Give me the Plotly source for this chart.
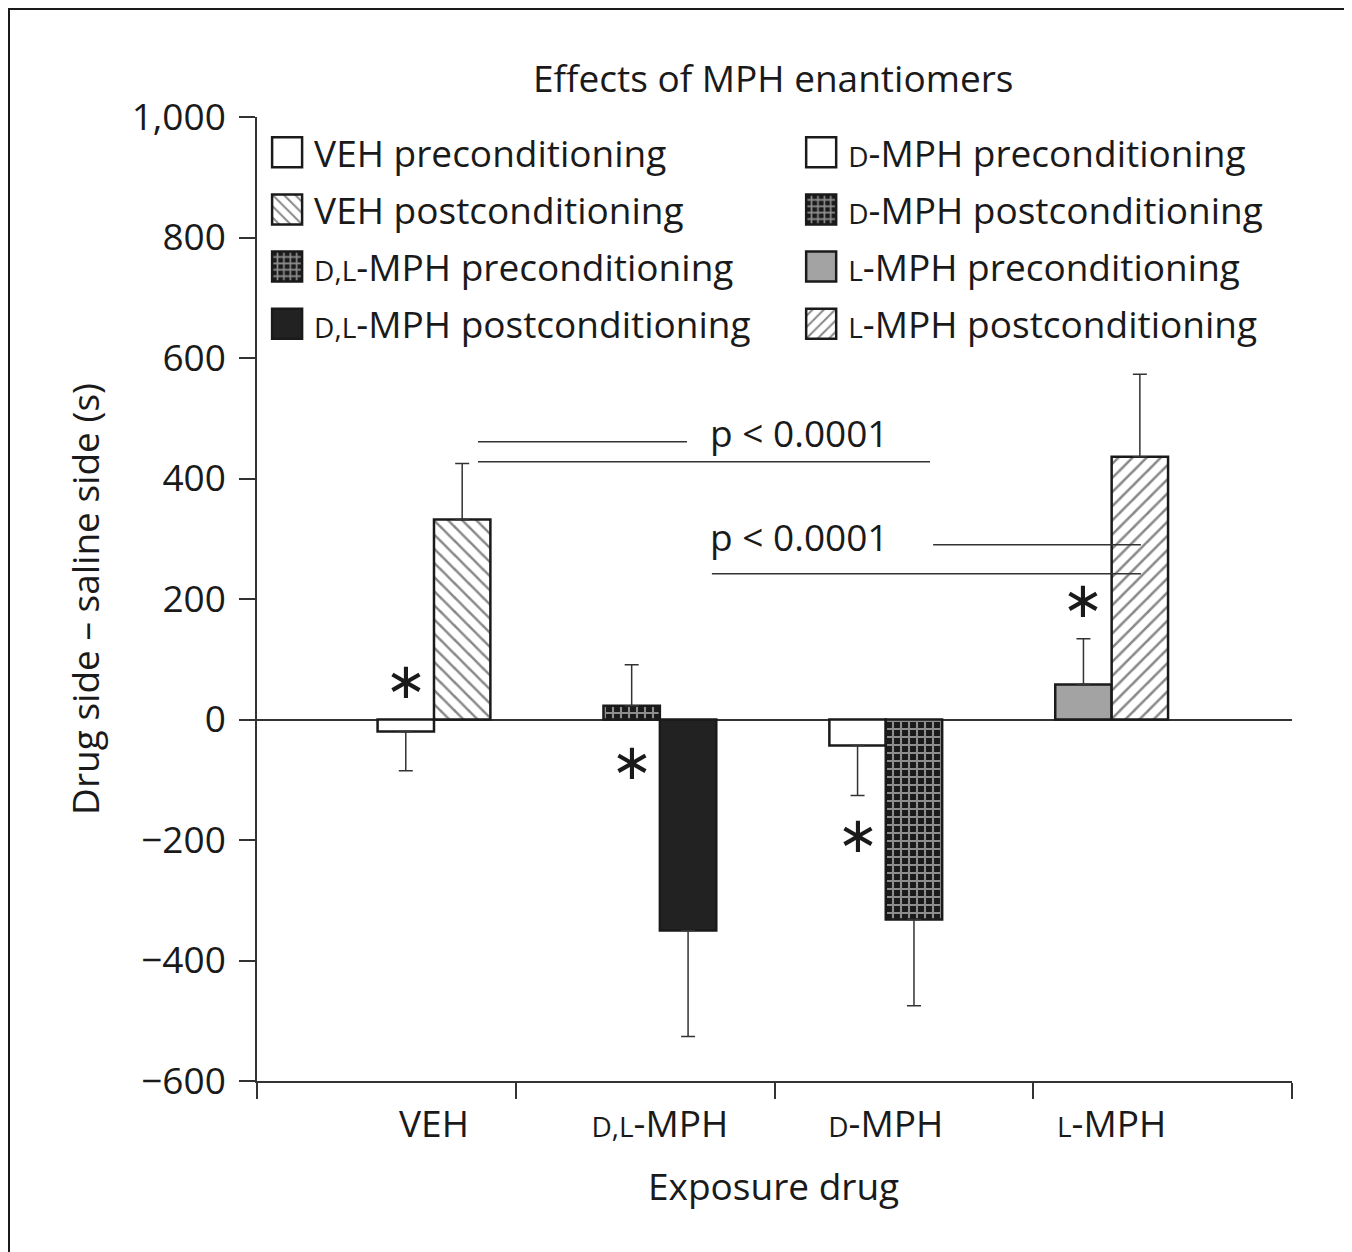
import plotly.graph_objects as go

# ---------------- data ----------------
groups = ["VEH", "D,L-MPH", "D-MPH", "L-MPH"]
pre_values = [-20, 23, -43, 58]
pre_errors = [65, 68, 83, 76]
post_values = [332, -350, -332, 436]
post_errors = [93, 176, 143, 137]
y_tick_values = [-600, -400, -200, 0, 200, 400, 600, 800, 1000]
y_tick_labels = ["\u2212600", "\u2212400", "\u2212200", "0", "200", "400", "600", "800", "1,000"]

# ---------------- styling / layout ----------------
FONT = "Open Sans"
FS = 37
INK = "#1a1a1a"
AX = "#333333"


def sc(s):
    """small caps imitation for D / L prefixes"""
    return f"<span style='font-size:{int(FS * 0.78)}px'>{s}</span>"


def display(g):
    if g.endswith("-MPH"):
        return sc(g[:-4]) + "-MPH"
    return g


GS, GSTEP, BW = 0.684, 0.873, 0.218
centers = [GS + i * GSTEP for i in range(len(groups))]

WHITE = dict(color="white", line=dict(color=INK, width=2.5))
CHECK = dict(color="#1a1a1a", line=dict(color=INK, width=2.5),
             pattern=dict(shape="+", fgcolor="white", bgcolor="#1a1a1a", size=8, solidity=0.45))
BACK = dict(color="white", line=dict(color=INK, width=2.5),
            pattern=dict(shape="\\", fgcolor="#111111", bgcolor="white", size=10, solidity=0.25))
FWD = dict(color="white", line=dict(color=INK, width=2.5),
           pattern=dict(shape="/", fgcolor="#111111", bgcolor="white", size=10, solidity=0.25))
BLACK = dict(color="#222222", line=dict(color=INK, width=2.5))
GRAY = dict(color="#a3a3a3", line=dict(color=INK, width=2.5))

pre_styles = [WHITE, CHECK, WHITE, GRAY]
post_styles = [BACK, BLACK, CHECK, FWD]
legend_of = ["legend", "legend", "legend2", "legend2"]

fig = go.Figure()
for i, g in enumerate(groups):
    for phase, vals, errs, styles, off in (
        ("preconditioning", pre_values, pre_errors, pre_styles, -BW / 2),
        ("postconditioning", post_values, post_errors, post_styles, BW / 2),
    ):
        v, e = vals[i], errs[i]
        up, down = (e, 0) if v >= 0 else (0, e)
        fig.add_trace(go.Bar(
            x=[centers[i] + off], y=[v], width=BW,
            name=f"{display(g)} {phase}",
            marker=styles[i],
            error_y=dict(type="data", symmetric=False, array=[up], arrayminus=[down],
                         color=AX, thickness=1.5, width=7),
            legend=legend_of[i], legendgroup=f"{g}{phase}",
            hoverinfo="skip",
        ))

# the page body adds an 8px offset, so the figure is drawn 8px smaller
fig.update_layout(
    width=1344, height=1244,
    margin=dict(l=249, r=60, t=109, b=171),
    paper_bgcolor="white", plot_bgcolor="white",
    font=dict(family=FONT, size=FS, color=INK),
    barmode="overlay",
    showlegend=True,
    legend=dict(x=0.003, y=0.995, xanchor="left", yanchor="top", bgcolor="rgba(0,0,0,0)",
                itemwidth=44, tracegroupgap=6, font=dict(size=FS)),
    legend2=dict(x=0.519, y=0.995, xanchor="left", yanchor="top", bgcolor="rgba(0,0,0,0)",
                 itemwidth=44, tracegroupgap=6, font=dict(size=FS)),
    xaxis=dict(range=[0, 4], tickmode="array", tickvals=centers,
               ticktext=[display(g) for g in groups], ticks="", ticklabelstandoff=10,
               showline=True, linecolor=AX, linewidth=1.5, showgrid=False, zeroline=False,
               minor=dict(tickmode="array", tickvals=[0, 1, 2, 3, 4], ticks="outside",
                          ticklen=16, tickwidth=1.5, tickcolor=AX, showgrid=False)),
    yaxis=dict(range=[-600, 1000], tickmode="array", tickvals=y_tick_values,
               ticktext=y_tick_labels, ticks="outside", ticklen=16, tickwidth=1.5,
               tickcolor=AX, showline=True, linecolor=AX, linewidth=1.5, showgrid=False,
               zeroline=True, zerolinecolor=AX, zerolinewidth=1.5, ticklabelstandoff=6),
)

# significance brackets
line = dict(color=AX, width=1.5)
for x0, x1, y in ((0.854, 1.662, 461), (0.854, 2.601, 428), (2.613, 3.416, 290), (1.758, 3.416, 242)):
    fig.add_shape(type="line", xref="x", yref="y", x0=x0, x1=x1, y0=y, y1=y, line=line)

# outer frame
fig.add_shape(type="rect", xref="paper", yref="paper", x0=-0.2401, x1=1.0517, y0=-0.2,
              y1=1.1126, line=dict(color=INK, width=3), layer="above")

ann = []
ann.append(dict(text="Effects of MPH enantiomers", x=0.4986, y=1.0405, xref="paper", yref="paper",
                showarrow=False, xanchor="center", yanchor="middle", font=dict(size=FS)))
ann.append(dict(text="Exposure drug", x=0.4986, y=-0.1079, xref="paper", yref="paper",
                showarrow=False, xanchor="center", yanchor="middle"))
ann.append(dict(text="Drug side \u2013 saline side (s)", x=-0.1672, y=0.5, xref="paper",
                yref="paper", textangle=-90, showarrow=False, xanchor="center", yanchor="middle"))
for y in (477, 303):
    ann.append(dict(text="p < 0.0001", x=2.098, y=y, xref="x", yref="y", showarrow=False,
                    xanchor="center", yanchor="middle"))
for i, y in zip(range(4), (64, -70, -191, 198)):
    ann.append(dict(text="\u2217", x=centers[i] - BW / 2, y=y, xref="x", yref="y",
                    showarrow=False, xanchor="center", yanchor="middle",
                    font=dict(family="DejaVu Sans", size=50)))
fig.update_layout(annotations=ann)

post = """
var gd = document.getElementById('{plot_id}');
gd.querySelectorAll('.legendpoints path').forEach(function(p){
  p.setAttribute('d','M15,15H-15V-15H15Z');
});
"""
fig.write_html("out.html", post_script=post)
